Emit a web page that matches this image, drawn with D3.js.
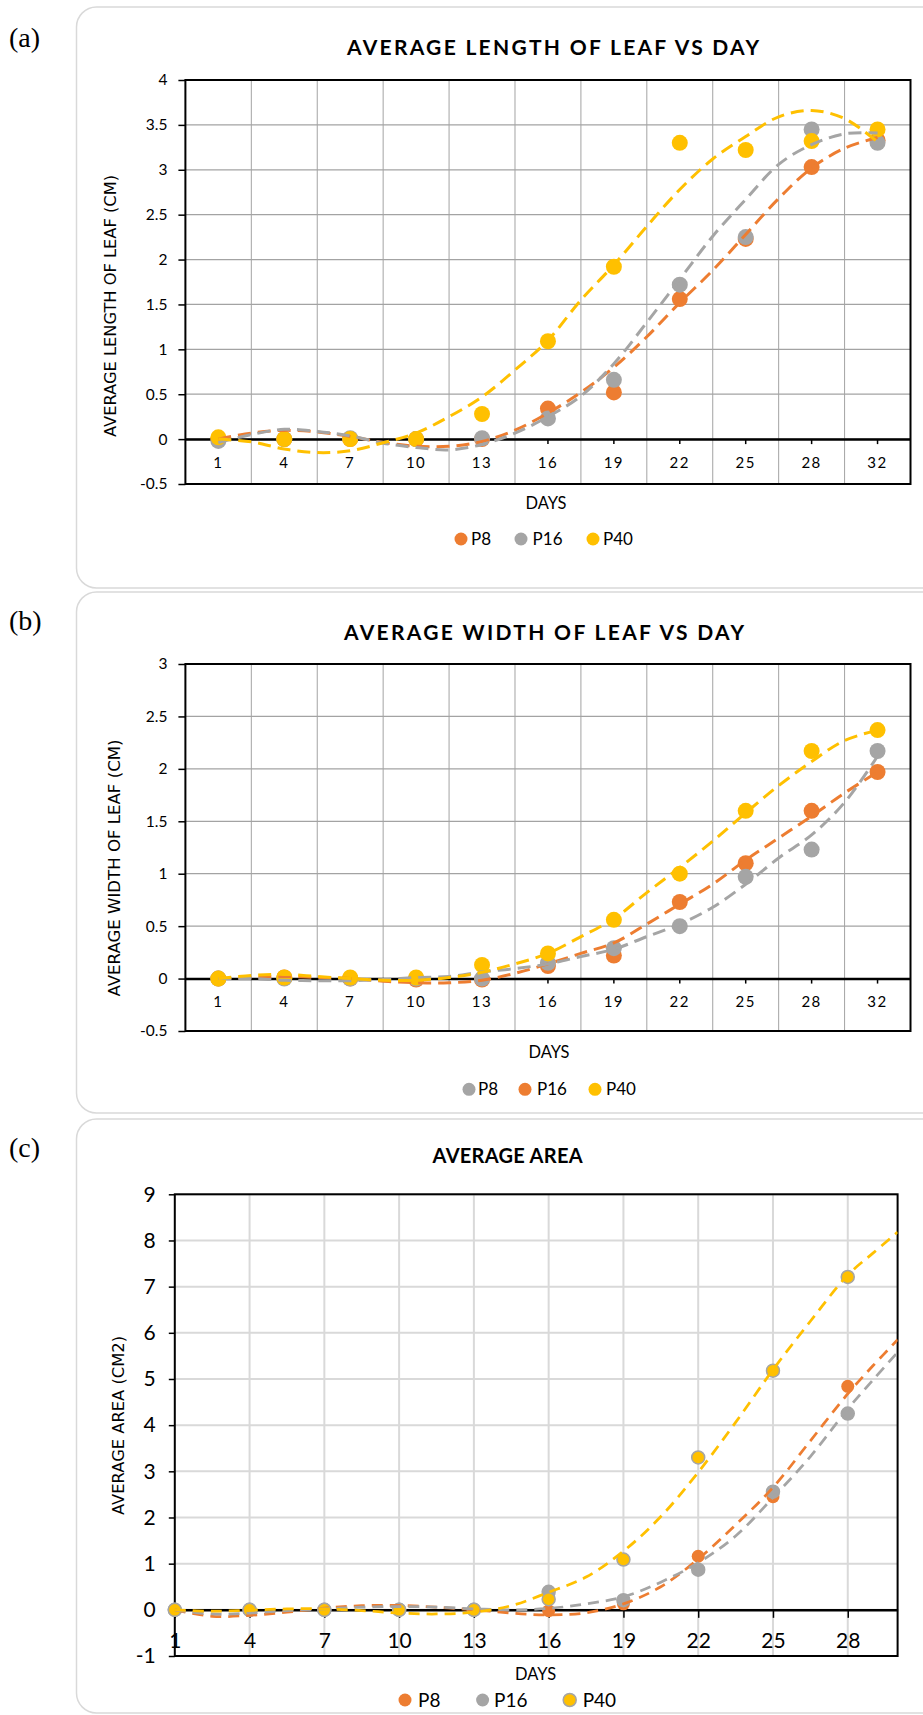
<!DOCTYPE html>
<html><head><meta charset="utf-8">
<script src="https://cdn.jsdelivr.net/npm/d3@7"></script>
<style>body{margin:0;background:#fff}svg{display:block}</style>
</head><body>
<svg id="c" width="923" height="1715"></svg>
<script>
// ---------------- DATA ----------------
const daysAB = ["1","4","7","10","13","16","19","22","25","28","32"];
const trendIdx = [1,1.5,2,2.5,3,3.5,4,4.5,5,5.5,6,6.5,7,7.5,8,8.5,9,9.5,10,10.5,11];

// (a) average length of leaf
const lenTicks = [-0.5,0,0.5,1,1.5,2,2.5,3,3.5,4];
const lenP8  = [0, 0, 0, 0, 0, 0.34, 0.52, 1.56, 2.23, 3.03, 3.33];
const lenP16 = [-0.02, 0, 0.01, 0, 0.01, 0.23, 0.66, 1.72, 2.25, 3.45, 3.30];
const lenP40 = [0.02, 0, 0, 0, 0.28, 1.09, 1.92, 3.30, 3.22, 3.32, 3.45];
const trendLenP8  = [0, 0.067, 0.097, 0.08, 0.03, -0.037, -0.08, -0.08, -0.026, 0.10, 0.29, 0.52, 0.80, 1.14, 1.52, 1.88, 2.28, 2.68, 3.02, 3.24, 3.36];
const trendLenP16 = [-0.037, 0.05, 0.11, 0.086, 0.037, -0.045, -0.093, -0.12, -0.06, 0.067, 0.25, 0.48, 0.84, 1.30, 1.78, 2.26, 2.67, 3.06, 3.28, 3.40, 3.41];
const trendLenP40 = [0, -0.03, -0.11, -0.15, -0.13, -0.04, 0.067, 0.25, 0.47, 0.77, 1.10, 1.55, 1.94, 2.37, 2.78, 3.12, 3.37, 3.59, 3.66, 3.57, 3.31];

// (b) average width of leaf
const widTicks = [-0.5,0,0.5,1,1.5,2,2.5,3];
const widP8  = [0, 0, 0, 0, 0, 0.15, 0.29, 0.50, 0.97, 1.23, 2.17];
const widP16 = [0, 0.01, 0, -0.01, -0.01, 0.12, 0.22, 0.73, 1.10, 1.60, 1.97];
const widP40 = [0, 0.01, 0.01, 0.01, 0.13, 0.24, 0.56, 1.00, 1.60, 2.17, 2.37];
const trendWidP8  = [0, 0, -0.016, -0.02, -0.02, -0.01, 0.01, 0.02, 0.064, 0.095, 0.14, 0.21, 0.28, 0.40, 0.52, 0.68, 0.90, 1.15, 1.37, 1.68, 2.12];
const trendWidP16 = [0, 0.01, 0.02, 0.01, 0, -0.025, -0.04, -0.04, -0.016, 0.05, 0.14, 0.24, 0.34, 0.52, 0.71, 0.90, 1.13, 1.34, 1.55, 1.77, 1.97];
const trendWidP40 = [0, 0.03, 0.04, 0.02, 0, -0.016, -0.016, 0.01, 0.06, 0.14, 0.24, 0.40, 0.57, 0.82, 1.06, 1.31, 1.58, 1.84, 2.07, 2.27, 2.37];

// (c) average area
const daysC = [1,4,7,10,13,16,19,22,25,28];
const areaTicks = [-1,0,1,2,3,4,5,6,7,8,9];
const areaP8  = [0, 0, 0, 0, 0, -0.02, 0.13, 1.16, 2.45, 4.84];
const areaP16 = [0, 0, 0, 0, 0, 0.39, 0.21, 0.87, 2.56, 4.25];
const areaP40 = [0, 0, 0, 0, 0, 0.23, 1.09, 3.30, 5.18, 7.21];
const trendDaysC = [1,2.5,4,5.5,7,8.5,10,11.5,13,14.5,16,17.5,19,20.5,22,23.5,25,26.5,28,29,30];
const trendAreaP8  = [0, -0.14, -0.12, -0.05, 0.036, 0.09, 0.094, 0.058, 0, -0.07, -0.11, -0.065, 0.13, 0.5, 1.1, 1.84, 2.65, 3.66, 4.68, 5.28, 5.85];
const trendAreaP16 = [0, -0.09, -0.07, -0.015, 0.02, 0.058, 0.072, 0.058, 0.022, 0.0, 0.03, 0.13, 0.28, 0.6, 1.02, 1.6, 2.43, 3.32, 4.35, 4.97, 5.58];
const trendAreaP40 = [0, -0.03, -0.01, 0.02, 0.02, -0.015, -0.07, -0.09, -0.05, 0.09, 0.38, 0.71, 1.27, 2.02, 2.98, 4.06, 5.2, 6.25, 7.25, 7.72, 8.18];

// ---------------- STYLE ----------------
const ORANGE = "#ED7D31", GRAY = "#A5A5A5", YELLOW = "#FFC000";
const FONT = "Lato, 'Open Sans', sans-serif";
const svg = d3.select("#c");

// panels
[[7,588],[592,1113],[1119,1713]].forEach(([y0,y1]) => {
  svg.append("rect").attr("x",76.5).attr("y",y0).attr("width",900).attr("height",y1-y0)
    .attr("rx",20).attr("fill","#fff").attr("stroke","#d9d9d9").attr("stroke-width",1.5);
});
[["(a)",47],["(b)",630],["(c)",1157]].forEach(([t,yb]) => {
  svg.append("text").attr("x",9).attr("y",yb).text(t)
    .attr("font-family","'Liberation Serif', serif").attr("font-size",28).attr("fill","#000");
});

function title(t, cx, yb, size, len) {
  svg.append("text").attr("x",cx).attr("y",yb).attr("text-anchor","middle")
    .attr("font-family",FONT).attr("font-weight","bold").attr("font-size",size)
    .attr("textLength",len).attr("lengthAdjust","spacing").attr("fill","#000").text(t);
}
function yLabel(t, cx, cy, len) {
  svg.append("text").attr("transform",`translate(${cx+5.5},${cy}) rotate(-90)`)
    .attr("text-anchor","middle").attr("font-family","'DejaVu Sans', sans-serif")
    .attr("font-size",15).attr("textLength",len).attr("lengthAdjust","spacingAndGlyphs")
    .attr("fill","#000").text(t);
}
function xLabel(t, cx, cy, size, len) {
  svg.append("text").attr("x",cx).attr("y",cy+size*0.36).attr("text-anchor","middle")
    .attr("font-family",FONT).attr("font-size",size).attr("textLength",len)
    .attr("lengthAdjust","spacingAndGlyphs").attr("fill","#000").text(t);
}
function legend(items, cy, size, r) {
  items.forEach(it => {
    svg.append("circle").attr("cx",it.mx).attr("cy",cy).attr("r",r).attr("fill",it.color)
      .attr("stroke",it.stroke||"none").attr("stroke-width",1.5);
    svg.append("text").attr("x",it.tx).attr("y",cy+size*0.36).attr("font-family",FONT)
      .attr("font-size",size).attr("fill","#000").text(it.name);
  });
}

function catChart(o) {
  const g = svg.append("g");
  const x = d3.scaleBand().domain(o.cats).range([o.left,o.right]);
  const xi = d3.scaleLinear().domain([0.5,o.cats.length+0.5]).range([o.left,o.right]);
  const y = d3.scaleLinear().domain(o.yDomain).range([o.bottom,o.top]);
  g.append("g").selectAll("line").data(o.cats.slice(1)).join("line")
    .attr("x1",d=>x(d)).attr("x2",d=>x(d)).attr("y1",o.top).attr("y2",o.bottom)
    .attr("stroke","#a3a3a3").attr("stroke-width",1);
  g.append("g").selectAll("line").data(o.yTicks).join("line")
    .attr("x1",o.left).attr("x2",o.right).attr("y1",d=>y(d)).attr("y2",d=>y(d))
    .attr("stroke","#a3a3a3").attr("stroke-width",1.3);
  g.append("rect").attr("x",o.left).attr("y",o.top).attr("width",o.right-o.left)
    .attr("height",o.bottom-o.top).attr("fill","none").attr("stroke","#000").attr("stroke-width",2);
  const ya = g.append("g").attr("transform",`translate(${o.left},0)`)
    .call(d3.axisLeft(y).tickValues(o.yTicks).tickSize(7).tickPadding(11).tickFormat(d=>String(d)));
  ya.select(".domain").remove();
  ya.selectAll("line").attr("stroke","#000").attr("stroke-width",1.5);
  ya.attr("font-family",FONT).attr("font-size",15.5);
  ya.selectAll("text").attr("fill","#000");
  const xa = g.append("g").attr("transform",`translate(0,${y(0)})`)
    .call(d3.axisBottom(x).tickSize(5).tickSizeOuter(0).tickPadding(13));
  xa.select(".domain").attr("stroke","#000").attr("stroke-width",2.5);
  xa.selectAll("line").attr("stroke","#000").attr("stroke-width",1.5);
  xa.attr("font-family",FONT).attr("font-size",15);
  xa.selectAll("text").attr("fill","#000").attr("letter-spacing","1.5px");
  o.series.forEach(s => {
    g.append("g").selectAll("circle").data(s.values).join("circle")
      .attr("cx",(d,i)=>x(o.cats[i])+x.bandwidth()/2).attr("cy",d=>y(d)).attr("r",8)
      .attr("fill",s.color);
  });
  const line = d3.line().x(d=>xi(d[0])).y(d=>y(d[1])).curve(d3.curveCatmullRom.alpha(0.5));
  o.series.forEach(s => {
    g.append("path").attr("d",line(trendIdx.map((t,i)=>[t,s.trend[i]])))
      .attr("fill","none").attr("stroke",s.color).attr("stroke-width",3)
      .attr("stroke-dasharray","13,7");
  });
}

// (a)
title("AVERAGE LENGTH OF LEAF VS DAY", 553, 55, 21, 412);
catChart({cats:daysAB, left:185.4, right:910.5, top:80, bottom:484, yDomain:[-0.5,4], yTicks:lenTicks,
  series:[{values:lenP8,trend:trendLenP8,color:ORANGE},{values:lenP16,trend:trendLenP16,color:GRAY},{values:lenP40,trend:trendLenP40,color:YELLOW}]});
yLabel("AVERAGE LENGTH OF LEAF (CM)", 110, 306, 262);
xLabel("DAYS", 546, 503, 17, 41);
legend([{name:"P8",color:ORANGE,mx:461,tx:471},{name:"P16",color:GRAY,mx:521,tx:532.6},{name:"P40",color:YELLOW,mx:593,tx:603}], 539, 17, 6.5);

// (b)
title("AVERAGE WIDTH OF LEAF VS DAY", 544, 640, 21, 400);
catChart({cats:daysAB, left:185.4, right:910.5, top:664, bottom:1031, yDomain:[-0.5,3], yTicks:widTicks,
  series:[{values:widP16,trend:trendWidP16,color:ORANGE},{values:widP8,trend:trendWidP8,color:GRAY},{values:widP40,trend:trendWidP40,color:YELLOW}]});
yLabel("AVERAGE  WIDTH OF LEAF (CM)", 114, 868, 257);
xLabel("DAYS", 549, 1051.7, 17, 41);
legend([{name:"P8",color:GRAY,mx:469,tx:478},{name:"P16",color:ORANGE,mx:525,tx:537},{name:"P40",color:YELLOW,mx:595,tx:606}], 1089.3, 17, 6.5);

// (c)
(function(){
  const left=174.8, right=897.6, top=1194.3, bottom=1656;
  const g = svg.append("g");
  const x = d3.scaleLinear().domain([1,30]).range([left,right]);
  const y = d3.scaleLinear().domain([-1,9]).range([bottom,top]);
  g.append("g").selectAll("line").data(daysC.slice(1)).join("line")
    .attr("x1",d=>x(d)).attr("x2",d=>x(d)).attr("y1",top).attr("y2",bottom)
    .attr("stroke","#d9d9d9").attr("stroke-width",2);
  g.append("g").selectAll("line").data(areaTicks).join("line")
    .attr("x1",left).attr("x2",right).attr("y1",d=>y(d)).attr("y2",d=>y(d))
    .attr("stroke","#d9d9d9").attr("stroke-width",2);
  g.append("rect").attr("x",left).attr("y",top).attr("width",right-left).attr("height",bottom-top)
    .attr("fill","none").attr("stroke","#000").attr("stroke-width",2);
  const ya = g.append("g").attr("transform",`translate(${left},0)`)
    .call(d3.axisLeft(y).tickValues(areaTicks).tickSize(6).tickPadding(13).tickFormat(d=>String(d)));
  ya.select(".domain").remove();
  ya.selectAll("line").attr("stroke","#000").attr("stroke-width",1.5);
  ya.attr("font-family",FONT).attr("font-size",21);
  ya.selectAll("text").attr("fill","#000");
  const xa = g.append("g").attr("transform",`translate(0,${y(0)})`)
    .call(d3.axisBottom(x).tickValues(daysC).tickSize(8).tickSizeOuter(0).tickPadding(15).tickFormat(d=>String(d)));
  xa.select(".domain").attr("stroke","#000").attr("stroke-width",2.5);
  xa.selectAll("line").attr("stroke","#000").attr("stroke-width",1.5);
  xa.attr("font-family",FONT).attr("font-size",21);
  xa.selectAll("text").attr("fill","#000");
  const series = [
    {values:areaP8,trend:trendAreaP8,color:ORANGE,stroke:"none"},
    {values:areaP16,trend:trendAreaP16,color:GRAY,stroke:GRAY},
    {values:areaP40,trend:trendAreaP40,color:YELLOW,stroke:GRAY}];
  series.forEach(s => {
    g.append("g").selectAll("circle").data(s.values).join("circle")
      .attr("cx",(d,i)=>x(daysC[i])).attr("cy",d=>y(d)).attr("r",6.5)
      .attr("fill",s.color).attr("stroke",s.stroke).attr("stroke-width",1.5);
  });
  svg.append("clipPath").attr("id","clipC").append("rect").attr("x",left).attr("y",top)
    .attr("width",right-left).attr("height",bottom-top);
  const line = d3.line().x(d=>x(d[0])).y(d=>y(d[1])).curve(d3.curveCatmullRom.alpha(0.5));
  series.forEach(s => {
    g.append("path").attr("clip-path","url(#clipC)")
      .attr("d",line(trendDaysC.map((t,i)=>[t,s.trend[i]])))
      .attr("fill","none").attr("stroke",s.color).attr("stroke-width",2.75)
      .attr("stroke-dasharray","11,7");
  });
})();
title("AVERAGE AREA", 507.6, 1162.7, 20, 150);
yLabel("AVERAGE AREA (CM2)", 118.5, 1425.5, 179);
xLabel("DAYS", 535.6, 1674, 18, 41);
legend([{name:"P8",color:ORANGE,mx:405,tx:418},{name:"P16",color:GRAY,mx:482.6,tx:494},{name:"P40",color:YELLOW,stroke:GRAY,mx:569.7,tx:582.7}], 1700, 19, 6.5);
</script>
</body></html>
